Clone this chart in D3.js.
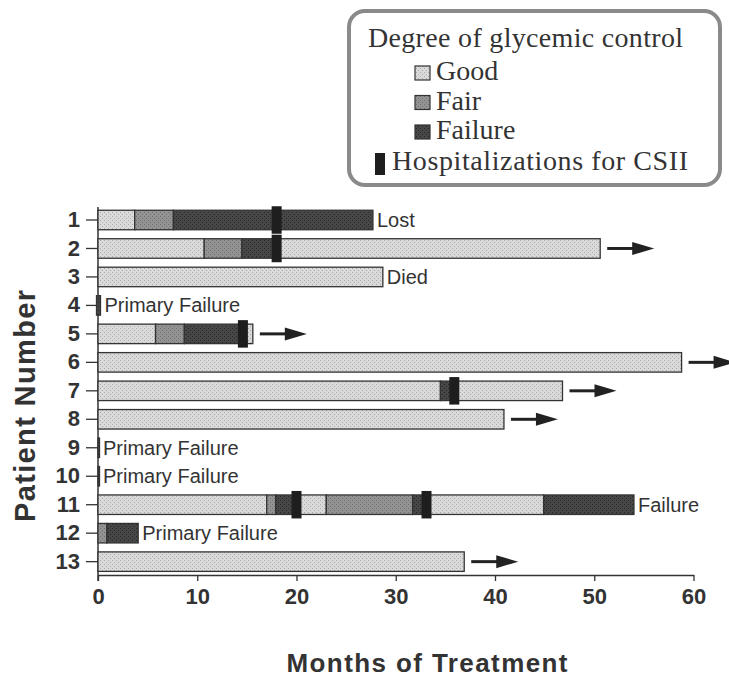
<!DOCTYPE html>
<html><head><meta charset="utf-8">
<script src="https://cdn.jsdelivr.net/npm/d3@7"></script>
<style>body{margin:0;background:#fff}svg{display:block}</style>
</head><body>
<svg id="c" width="729" height="680"></svg>
<script>
const patients = ["1","2","3","4","5","6","7","8","9","10","11","12","13"];
const goodSpans = [["1",0,3.7],["2",0,10.7],["2",18,50.6],["3",0,28.7],["5",0,5.8],["5",14.6,15.6],["6",0,58.8],["7",0,34.5],["7",35.9,46.8],["8",0,40.9],["11",0,17],["11",20,23],["11",33.1,44.9],["13",0,36.9]];
const fairSpans = [["1",3.7,7.6],["2",10.7,14.5],["5",5.8,8.7],["11",17,17.9],["11",23,31.7],["12",0,0.9]];
const failureSpans = [["1",7.6,27.7],["2",14.5,18],["4",-0.15,0.25],["5",8.7,14.6],["7",34.5,35.9],["9",0,0.1],["10",0,0.1],["11",17.9,20],["11",31.7,33.1],["11",44.9,54],["12",0.9,4.05]];
const hospitalizations = [["1",18],["2",18],["5",14.6],["7",35.9],["11",20],["11",33.1]];
const outcomes = [["1","Lost"],["3","Died"],["4","Primary Failure"],["9","Primary Failure"],["10","Primary Failure"],["11","Failure"],["12","Primary Failure"]];
const continuing = ["2","5","6","7","8","13"];
const xTicks = [0,10,20,30,40,50,60];
const legendItems = ["Good","Fair","Failure"];

const svg = d3.select("#c");
const x = d3.scaleLinear().domain([0,60]).range([98,693.5]);
const y = d3.scaleBand().domain(patients).range([210.25,571.4]).paddingInner(0.315).paddingOuter(0);
const bw = y.bandwidth();
const sans = "Liberation Sans, Arial, sans-serif";

// patterns
const defs = svg.append("defs");
function pat(id,bg,dot){
  const p = defs.append("pattern").attr("id",id).attr("width",4).attr("height",4).attr("patternUnits","userSpaceOnUse");
  p.append("rect").attr("width",4).attr("height",4).attr("fill",bg);
  p.append("rect").attr("x",0).attr("y",0).attr("width",1).attr("height",1).attr("fill",dot);
  p.append("rect").attr("x",2).attr("y",2).attr("width",1).attr("height",1).attr("fill",dot);
}
pat("pGood","#dadada","#a9a9a9");
pat("pFair","#939393","#6e6e6e");
pat("pFail","#474747","#262626");
const fills = {Good:"url(#pGood)",Fair:"url(#pFair)",Failure:"url(#pFail)"};

// axes
const gx = svg.append("g").attr("transform","translate(0,575)")
  .call(d3.axisBottom(x).tickValues(xTicks).tickSize(6).tickPadding(7).tickSizeOuter(0));
gx.select(".domain").attr("stroke","#333").attr("stroke-width",1.5);
gx.selectAll(".tick line").attr("stroke","#333").attr("stroke-width",1.3);
gx.selectAll("text").attr("font-family",sans).attr("font-weight","bold").attr("font-size",22).attr("fill","#333");

const gy = svg.append("g").attr("transform","translate(98,0)")
  .call(d3.axisLeft(y).tickSize(12).tickPadding(6).tickSizeOuter(0));
gy.select(".domain").attr("d","M0,207V581").attr("stroke","#333").attr("stroke-width",1.5);
gy.selectAll(".tick line").attr("stroke","#333").attr("stroke-width",1.3);
gy.selectAll("text").attr("font-family",sans).attr("font-weight","bold").attr("font-size",22).attr("fill","#333");

// bars
function drawSpans(data,grade){
  svg.append("g").selectAll("rect").data(data).join("rect")
    .attr("x",d=>x(d[1])).attr("y",d=>y(d[0]))
    .attr("width",d=>Math.max(1.5,x(d[2])-x(d[1]))).attr("height",bw)
    .attr("fill",fills[grade]).attr("stroke","#333").attr("stroke-width",1.3);
}
drawSpans(goodSpans,"Good");
drawSpans(fairSpans,"Fair");
drawSpans(failureSpans,"Failure");

// hospitalization markers
svg.append("g").selectAll("rect").data(hospitalizations).join("rect")
  .attr("x",d=>x(d[1])-5).attr("y",d=>y(d[0])-4).attr("width",10).attr("height",bw+8)
  .attr("fill","#1e1e1e");

const allSpans = goodSpans.concat(fairSpans,failureSpans);
const barEnd = p => d3.max(allSpans.filter(s=>s[0]===p), s=>s[2]);

// outcome labels
svg.append("g").selectAll("text").data(outcomes).join("text")
  .attr("x",d=>x(barEnd(d[0]))+4).attr("y",d=>y(d[0])+bw/2).attr("dy","0.35em")
  .attr("font-family",sans).attr("font-size",20).attr("fill","#333")
  .text(d=>d[1]);

// arrows
const ga = svg.append("g");
continuing.forEach(p=>{
  const x0 = x(barEnd(p))+7, x1 = x0+47, cy = y(p)+bw/2;
  ga.append("line").attr("x1",x0).attr("x2",x1-20).attr("y1",cy).attr("y2",cy).attr("stroke","#222").attr("stroke-width",3);
  ga.append("path").attr("d",`M${x1-22},${cy-6.5}L${x1},${cy}L${x1-22},${cy+6.5}Z`).attr("fill","#222");
});

// axis titles
svg.append("text").attr("x",427).attr("y",672).attr("text-anchor","middle")
  .attr("font-family",sans).attr("font-weight","bold").attr("font-size",26)
  .attr("textLength",281).attr("lengthAdjust","spacing").attr("fill","#333").text("Months of Treatment");
svg.append("text").attr("transform","translate(35,406) rotate(-90)").attr("text-anchor","middle")
  .attr("font-family",sans).attr("font-weight","bold").attr("font-size",29)
  .attr("textLength",232).attr("lengthAdjust","spacing").attr("fill","#333").text("Patient Number");

// legend
const lg = svg.append("g");
lg.append("rect").attr("x",349).attr("y",11).attr("width",371).attr("height",174).attr("rx",16)
  .attr("fill","#fff").attr("stroke","#8a8a8a").attr("stroke-width",4);
const serif = "Liberation Serif, Times New Roman, serif";
lg.append("text").attr("x",368).attr("y",47).attr("font-family",serif).attr("font-size",28).attr("fill","#333")
  .attr("textLength",315).attr("lengthAdjust","spacing").text("Degree of glycemic control");
legendItems.forEach((k,i)=>{
  const by = 80 + i*29.5;
  lg.append("rect").attr("x",415).attr("y",by-14).attr("width",15).attr("height",14)
    .attr("fill",fills[k]).attr("stroke","#333").attr("stroke-width",1.2);
  lg.append("text").attr("x",436).attr("y",by).attr("font-family",serif).attr("font-size",28).attr("fill","#333").text(k);
});
lg.append("rect").attr("x",375).attr("y",153).attr("width",10).attr("height",22).attr("fill","#1e1e1e");
lg.append("text").attr("x",392).attr("y",170).attr("font-family",serif).attr("font-size",28).attr("fill","#333")
  .attr("textLength",296).attr("lengthAdjust","spacing").text("Hospitalizations for CSII");
</script>
</body></html>
